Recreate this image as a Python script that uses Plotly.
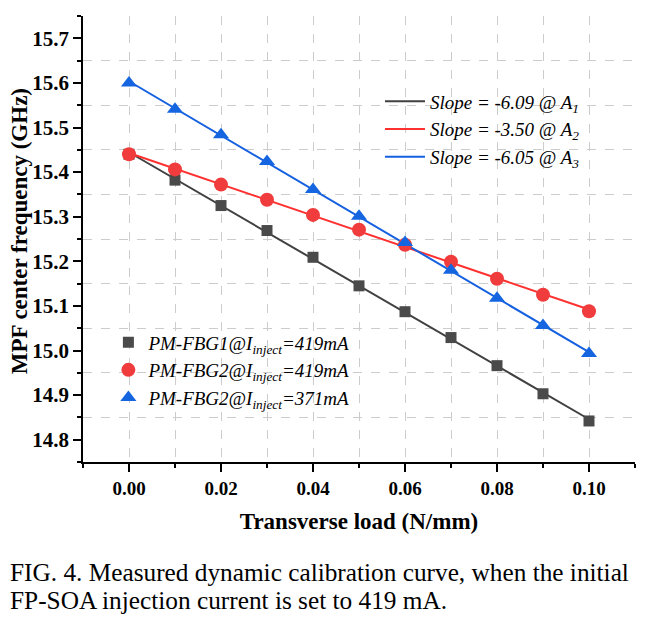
import numpy as np
import plotly.graph_objects as go

load = [0.00, 0.01, 0.02, 0.03, 0.04, 0.05, 0.06, 0.07, 0.08, 0.09, 0.10]
fbg1_419 = [15.440, 15.382, 15.325, 15.269, 15.209, 15.145, 15.087, 15.029, 14.966, 14.903, 14.842]
fbg2_419 = [15.440, 15.406, 15.372, 15.338, 15.304, 15.271, 15.237, 15.199, 15.161, 15.125, 15.088]
fbg2_371 = [15.600, 15.541, 15.484, 15.424, 15.361, 15.301, 15.242, 15.180, 15.117, 15.056, 14.993]

marker_names = [
    "<i>PM-FBG1@I<sub>inject</sub>=419mA</i>",
    "<i>PM-FBG2@I<sub>inject</sub>=419mA</i>",
    "<i>PM-FBG2@I<sub>inject</sub>=371mA</i>",
]
line_names = [
    "<i>Slope = -6.09 @ A<sub>1</sub></i>",
    "<i>Slope = -3.50 @ A<sub>2</sub></i>",
    "<i>Slope = -6.05 @ A<sub>3</sub></i>",
]
x_title = "<b>Transverse load (N/mm)</b>"
y_title = "<b>MPF center frequency (GHz)</b>"
caption_lines = [
    "FIG. 4. Measured dynamic calibration curve, when the initial",
    "FP-SOA injection current is set to 419 mA.",
]
series = [fbg1_419, fbg2_419, fbg2_371]
line_colors = ["#404040", "#ff3030", "#1560e0"]
marker_colors = ["#4a4a4a", "#f03c3c", "#1565e0"]
symbols = ["square", "circle", "triangle-up"]
msizes = [11, 14, 14]

FONT = "Times New Roman, Liberation Serif, serif"

fig = go.Figure()
xs = np.array(load)
for ys, name, c in zip(series, line_names, line_colors):
    k, b = np.polyfit(xs, np.array(ys), 1)
    xl = np.array([xs.min(), xs.max()])
    fig.add_trace(go.Scatter(x=xl, y=k * xl + b, mode="lines", name=name,
                             line=dict(color=c, width=2), legend="legend"))
for ys, name, c, s, ms in zip(series, marker_names, marker_colors, symbols, msizes):
    fig.add_trace(go.Scatter(x=load, y=ys, mode="markers", name=name,
                             marker=dict(color=c, symbol=s, size=ms),
                             legend="legend2"))

fig.update_layout(
    width=650, height=624,
    margin=dict(l=75, r=23, t=8, b=170),
    paper_bgcolor="white", plot_bgcolor="white",
    font=dict(family=FONT, color="black"),
    legend=dict(x=0.538, y=0.851, xanchor="left", yanchor="top",
                bgcolor="rgba(0,0,0,0)", font=dict(size=19, family=FONT),
                tracegroupgap=0, itemwidth=40),
    legend2=dict(x=0.046, y=0.311, xanchor="left", yanchor="top",
                 bgcolor="rgba(0,0,0,0)", font=dict(size=19, family=FONT),
                 tracegroupgap=0),
    xaxis=dict(
        range=[-0.01, 0.11], tick0=0, dtick=0.02, tickformat=".2f",
        automargin=False,
        showline=True, linecolor="black", linewidth=1.5,
        ticks="outside", ticklen=8, tickwidth=1.5, tickcolor="black",
        tickfont=dict(size=19, family=FONT, weight="bold"),
        showgrid=True, gridcolor="#cccccc", griddash="dash", gridwidth=1,
        zeroline=False,
        minor=dict(dtick=0.01, tick0=0, ticks="outside", ticklen=4, tickwidth=1.5,
                   tickcolor="black", showgrid=True, gridcolor="#cccccc",
                   griddash="dash", gridwidth=1),
        title=dict(text=x_title, font=dict(size=23, family=FONT), standoff=15),
    ),
    yaxis=dict(
        range=[14.75, 15.75], tick0=14.8, dtick=0.1, tickformat=".1f",
        automargin=False,
        showline=True, linecolor="black", linewidth=1.5,
        ticks="outside", ticklen=8, tickwidth=1.5, tickcolor="black",
        tickfont=dict(size=21, family=FONT, weight="bold"),
        showgrid=False, zeroline=False,
        minor=dict(dtick=0.05, tick0=14.75, ticks="outside", ticklen=4, tickwidth=1.5,
                   tickcolor="black", showgrid=True, gridcolor="#cccccc",
                   griddash="dash", gridwidth=1),
    ),
)

fig.add_annotation(
    text=y_title, xref="paper", yref="paper", x=-0.1135, y=0.518,
    xanchor="center", yanchor="middle", textangle=-90, showarrow=False,
    font=dict(size=23, family=FONT, color="black"),
)

for i, line in enumerate(caption_lines):
    fig.add_annotation(
        text=line, xref="paper", yref="paper",
        x=-0.1357, y=-0.211 - i * 0.062, xanchor="left", yanchor="top",
        align="left", showarrow=False,
        font=dict(size=25.3, family=FONT, color="black"),
    )

fig.write_html("out.html")
